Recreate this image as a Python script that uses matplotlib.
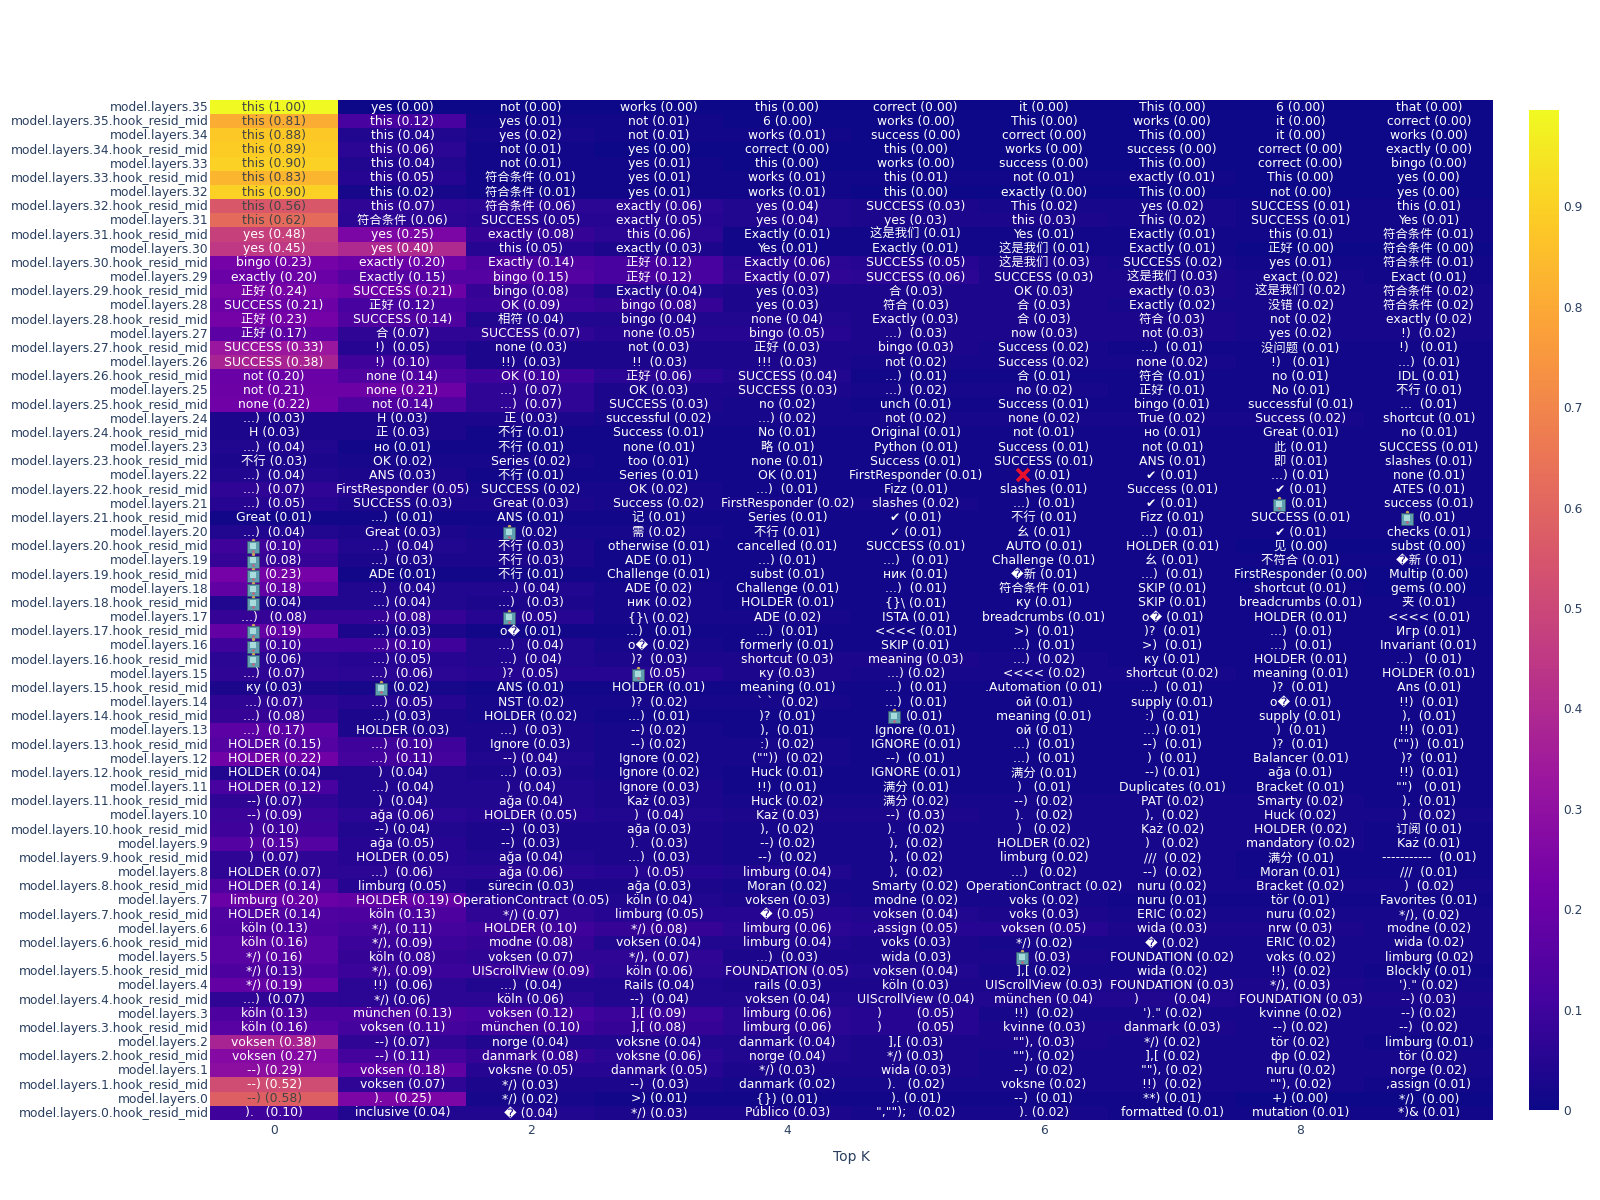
import matplotlib
matplotlib.use('Agg')
import matplotlib.pyplot as plt
from matplotlib.colors import LinearSegmentedColormap
from matplotlib.transforms import ScaledTranslation
import numpy as np

plt.rcParams['font.family'] = ['DejaVu Sans', 'Noto Sans CJK SC']

W, H = 1600, 1200
INK = '#2a3f5f'

plasma_colors = ['#0d0887', '#46039f', '#7201a8', '#9c179e', '#bd3786',
                 '#d8576b', '#ed7953', '#fb9f3a', '#fdca26', '#f0f921']

# rows run from the top of the chart down
layers = []
for n in range(35, -1, -1):
    layers.append('model.layers.%d' % n)
    layers.append('model.layers.%d.hook_resid_mid' % n)

R = '🤖'
X = '❌'

tokens = [
    ['this', 'yes', 'not', 'works', 'this', 'correct', 'it', 'This', '6', 'that'],
    ['this', 'this', 'yes', 'not', '6', 'works', 'This', 'works', 'it', 'correct'],
    ['this', 'this', 'yes', 'not', 'works', 'success', 'correct', 'This', 'it', 'works'],
    ['this', 'this', 'not', 'yes', 'correct', 'this', 'works', 'success', 'correct', 'exactly'],
    ['this', 'this', 'not', 'yes', 'this', 'works', 'success', 'This', 'correct', 'bingo'],
    ['this', 'this', '符合条件', 'yes', 'works', 'this', 'not', 'exactly', 'This', 'yes'],
    ['this', 'this', '符合条件', 'yes', 'works', 'this', 'exactly', 'This', 'not', 'yes'],
    ['this', 'this', '符合条件', 'exactly', 'yes', 'SUCCESS', 'This', 'yes', 'SUCCESS', 'this'],
    ['this', '符合条件', 'SUCCESS', 'exactly', 'yes', 'yes', 'this', 'This', 'SUCCESS', 'Yes'],
    ['yes', 'yes', 'exactly', 'this', 'Exactly', '这是我们', 'Yes', 'Exactly', 'this', '符合条件'],
    ['yes', 'yes', 'this', 'exactly', 'Yes', 'Exactly', '这是我们', 'Exactly', '正好', '符合条件'],
    ['bingo', 'exactly', 'Exactly', '正好', 'Exactly', 'SUCCESS', '这是我们', 'SUCCESS', 'yes', '符合条件'],
    ['exactly', 'Exactly', 'bingo', '正好', 'Exactly', 'SUCCESS', 'SUCCESS', '这是我们', 'exact', 'Exact'],
    ['正好', 'SUCCESS', 'bingo', 'Exactly', 'yes', '合', 'OK', 'exactly', '这是我们', '符合条件'],
    ['SUCCESS', '正好', 'OK', 'bingo', 'yes', '符合', '合', 'Exactly', '没错', '符合条件'],
    ['正好', 'SUCCESS', '相符', 'bingo', 'none', 'Exactly', '合', '符合', 'not', 'exactly'],
    ['正好', '合', 'SUCCESS', 'none', 'bingo', '...) ', 'now', 'not', 'yes', '!) '],
    ['SUCCESS', '!) ', 'none', 'not', '正好', 'bingo', 'Success', '...) ', '没问题', '!)  '],
    ['SUCCESS', '!) ', '!!) ', '!! ', '!!! ', 'not', 'Success', 'none', '!)  ', '...) '],
    ['not', 'none', 'OK', '正好', 'SUCCESS', '...) ', '合', '符合', 'no', 'IDL'],
    ['not', 'none', '...) ', 'OK', 'SUCCESS', '...) ', 'no', '正好', 'No', '不行'],
    ['none', 'not', '...) ', 'SUCCESS', 'no', 'unch', 'Success', 'bingo', 'successful', '... '],
    ['...) ', 'H', '正', 'successful', '...)', 'not', 'none', 'True', 'Success', 'shortcut'],
    ['H', '正', '不行', 'Success', 'No', 'Original', 'not', 'но', 'Great', 'no'],
    ['...) ', 'но', '不行', 'none', '略', 'Python', 'Success', 'not', '此', 'SUCCESS'],
    ['不行', 'OK', 'Series', 'too', 'none', 'Success', 'SUCCESS', 'ANS', '即', 'slashes'],
    ['...) ', 'ANS', '不行', 'Series', 'OK', 'FirstResponder', X, '✔', '...)', 'none'],
    ['...) ', 'FirstResponder', 'SUCCESS', 'OK', '...) ', 'Fizz', 'slashes', 'Success', '✔', 'ATES'],
    ['...) ', 'SUCCESS', 'Great', 'Success', 'FirstResponder', 'slashes', '...) ', '✔', R, 'success'],
    ['Great', '...) ', 'ANS', '记', 'Series', '✔', '不行', 'Fizz', 'SUCCESS', R],
    ['...) ', 'Great', R, '需', '不行', '✓', '幺', '...) ', '✔', 'checks'],
    [R, '...) ', '不行', 'otherwise', 'cancelled', 'SUCCESS', 'AUTO', 'HOLDER', '见', 'subst'],
    [R, '...) ', '不行', 'ADE', '...)', '...)  ', 'Challenge', '幺', '不符合', '�新'],
    [R, 'ADE', '不行', 'Challenge', 'subst', 'ник', '�新', '...) ', 'FirstResponder', 'Multip'],
    [R, '...)  ', '...)', 'ADE', 'Challenge', '...) ', '符合条件', 'SKIP', 'shortcut', 'gems'],
    [R, '...)', '...)  ', 'ник', 'HOLDER', '{}\\', 'ку', 'SKIP', 'breadcrumbs', '夹'],
    ['...)  ', '...)', R, '{}\\', 'ADE', 'ISTA', 'breadcrumbs', 'o�', 'HOLDER', '<<<<'],
    [R, '...)', 'o�', '...)  ', '...) ', '<<<<', '>) ', ')? ', '...) ', 'Игр'],
    [R, '...)', '...)  ', 'o�', 'formerly', 'SKIP', '...) ', '>) ', '...) ', 'Invariant'],
    [R, '...)', '...) ', ')? ', 'shortcut', 'meaning', '...) ', 'ку', 'HOLDER', '...)  '],
    ['...) ', '...) ', ')? ', R, 'ку', '...)', '<<<<', 'shortcut', 'meaning', 'HOLDER'],
    ['ку', R, 'ANS', 'HOLDER', 'meaning', '...) ', '.Automation', '...) ', ')? ', 'Ans'],
    ['...)', '...) ', 'NST', ')? ', '` ` ', '...) ', 'ой', 'supply', 'o�', '!!) '],
    ['...) ', '...)', 'HOLDER', '...) ', ')? ', R, 'meaning', ':) ', 'supply', '), '],
    ['...) ', 'HOLDER', '...) ', '--)', '), ', 'Ignore', 'ой', '...)', ') ', '!!) '],
    ['HOLDER', '...) ', 'Ignore', '--)', ':) ', 'IGNORE', '...) ', '--) ', ')? ', '("")) '],
    ['HOLDER', '...) ', '--)', 'Ignore', '("")) ', '--) ', '...) ', ') ', 'Balancer', ')? '],
    ['HOLDER', ') ', '...) ', 'Ignore', 'Huck', 'IGNORE', '满分', '--)', 'ağa', '!!) '],
    ['HOLDER', '...) ', ') ', 'Ignore', '!!) ', '满分', ')  ', 'Duplicates', 'Bracket', '"")  '],
    ['--)', ') ', 'ağa', 'Każ', 'Huck', '满分', '--) ', 'PAT', 'Smarty', '), '],
    ['--)', 'ağa', 'HOLDER', ') ', 'Każ', '--) ', ').  ', '), ', 'Huck', ')  '],
    [') ', '--)', '--) ', 'ağa', '), ', ').  ', ')  ', 'Każ', 'HOLDER', '订阅'],
    [') ', 'ağa', '--) ', ').  ', '--)', '), ', 'HOLDER', ')  ', 'mandatory', 'Każ'],
    [') ', 'HOLDER', 'ağa', '...) ', '--) ', '), ', 'limburg', '/// ', '满分', '----------- '],
    ['HOLDER', '...) ', 'ağa', ') ', 'limburg', '), ', '...)  ', '--) ', 'Moran', '/// '],
    ['HOLDER', 'limburg', 'sürecin', 'ağa', 'Moran', 'Smarty', 'OperationContract', 'nuru', 'Bracket', ') '],
    ['limburg', 'HOLDER', 'OperationContract', 'köln', 'voksen', 'modne', 'voks', 'nuru', 'tör', 'Favorites'],
    ['HOLDER', 'köln', '*/)', 'limburg', '�', 'voksen', 'voks', 'ERIC', 'nuru', '*/),'],
    ['köln', '*/),', 'HOLDER', '*/)', 'limburg', ',assign', 'voksen', 'wida', 'nrw', 'modne'],
    ['köln', '*/),', 'modne', 'voksen', 'limburg', 'voks', '*/)', '�', 'ERIC', 'wida'],
    ['*/)', 'köln', 'voksen', '*/),', '...) ', 'wida', R, 'FOUNDATION', 'voks', 'limburg'],
    ['*/)', '*/),', 'UIScrollView', 'köln', 'FOUNDATION', 'voksen', '],[', 'wida', '!!) ', 'Blockly'],
    ['*/)', '!!) ', '...) ', 'Rails', 'rails', 'köln', 'UIScrollView', 'FOUNDATION', '*/),', '\').\"'],
    ['...) ', '*/)', 'köln', '--) ', 'voksen', 'UIScrollView', 'münchen', ')        ', 'FOUNDATION', '--)'],
    ['köln', 'münchen', 'voksen', '],[', 'limburg', ')        ', '!!) ', '\').\"', 'kvinne', '--)'],
    ['köln', 'voksen', 'münchen', '],[', 'limburg', ')        ', 'kvinne', 'danmark', '--)', '--) '],
    ['voksen', '--)', 'norge', 'voksne', 'danmark', '],[', '""),', '*/)', 'tör', 'limburg'],
    ['voksen', '--)', 'danmark', 'voksne', 'norge', '*/)', '""),', '],[', 'фр', 'tör'],
    ['--)', 'voksen', 'voksne', 'danmark', '*/)', 'wida', '--) ', '""),', 'nuru', 'norge'],
    ['--)', 'voksen', '*/)', '--) ', 'danmark', ').  ', 'voksne', '!!) ', '""),', ',assign'],
    ['--)', ').  ', '*/)', '>)', '{})', ').', '--) ', '**)', '+)', '*/) '],
    [').  ', 'inclusive', '�', '*/)', 'Público', '","");  ', ').', 'formatted', 'mutation', '*)&'],
]

probs = [
    [.996, .00, .00, .00, .00, .00, .00, .00, .00, .00],
    [.81, .12, .01, .01, .00, .00, .00, .00, .00, .00],
    [.88, .04, .02, .01, .01, .00, .00, .00, .00, .00],
    [.89, .06, .01, .00, .00, .00, .00, .00, .00, .00],
    [.90, .04, .01, .01, .00, .00, .00, .00, .00, .00],
    [.83, .05, .01, .01, .01, .01, .01, .01, .00, .00],
    [.90, .02, .01, .01, .01, .00, .00, .00, .00, .00],
    [.56, .07, .06, .06, .04, .03, .02, .02, .01, .01],
    [.62, .06, .05, .05, .04, .03, .03, .02, .01, .01],
    [.48, .25, .08, .06, .01, .01, .01, .01, .01, .01],
    [.45, .40, .05, .03, .01, .01, .01, .01, .00, .00],
    [.23, .20, .14, .12, .06, .05, .03, .02, .01, .01],
    [.20, .15, .15, .12, .07, .06, .03, .03, .02, .01],
    [.24, .21, .08, .04, .03, .03, .03, .03, .02, .02],
    [.21, .12, .09, .08, .03, .03, .03, .02, .02, .02],
    [.23, .14, .04, .04, .04, .03, .03, .03, .02, .02],
    [.17, .07, .07, .05, .05, .03, .03, .03, .02, .02],
    [.33, .05, .03, .03, .03, .03, .02, .01, .01, .01],
    [.38, .10, .03, .03, .03, .02, .02, .02, .01, .01],
    [.20, .14, .10, .06, .04, .01, .01, .01, .01, .01],
    [.21, .21, .07, .03, .03, .02, .02, .01, .01, .01],
    [.22, .14, .07, .03, .02, .01, .01, .01, .01, .01],
    [.03, .03, .03, .02, .02, .02, .02, .02, .02, .01],
    [.03, .03, .01, .01, .01, .01, .01, .01, .01, .01],
    [.04, .01, .01, .01, .01, .01, .01, .01, .01, .01],
    [.03, .02, .02, .01, .01, .01, .01, .01, .01, .01],
    [.04, .03, .01, .01, .01, .01, .01, .01, .01, .01],
    [.07, .05, .02, .02, .01, .01, .01, .01, .01, .01],
    [.05, .03, .03, .02, .02, .02, .01, .01, .01, .01],
    [.01, .01, .01, .01, .01, .01, .01, .01, .01, .01],
    [.04, .03, .02, .02, .01, .01, .01, .01, .01, .01],
    [.10, .04, .03, .01, .01, .01, .01, .01, .00, .00],
    [.08, .03, .03, .01, .01, .01, .01, .01, .01, .01],
    [.23, .01, .01, .01, .01, .01, .01, .01, .00, .00],
    [.18, .04, .04, .02, .01, .01, .01, .01, .01, .00],
    [.04, .04, .03, .02, .01, .01, .01, .01, .01, .01],
    [.08, .08, .05, .02, .02, .01, .01, .01, .01, .01],
    [.19, .03, .01, .01, .01, .01, .01, .01, .01, .01],
    [.10, .10, .04, .02, .01, .01, .01, .01, .01, .01],
    [.06, .05, .04, .03, .03, .03, .02, .01, .01, .01],
    [.07, .06, .05, .05, .03, .02, .02, .02, .01, .01],
    [.03, .02, .01, .01, .01, .01, .01, .01, .01, .01],
    [.07, .05, .02, .02, .02, .01, .01, .01, .01, .01],
    [.08, .03, .02, .01, .01, .01, .01, .01, .01, .01],
    [.17, .03, .03, .02, .01, .01, .01, .01, .01, .01],
    [.15, .10, .03, .02, .02, .01, .01, .01, .01, .01],
    [.22, .11, .04, .02, .02, .01, .01, .01, .01, .01],
    [.04, .04, .03, .02, .01, .01, .01, .01, .01, .01],
    [.12, .04, .04, .03, .01, .01, .01, .01, .01, .01],
    [.07, .04, .04, .03, .02, .02, .02, .02, .02, .01],
    [.09, .06, .05, .04, .03, .03, .02, .02, .02, .02],
    [.10, .04, .03, .03, .02, .02, .02, .02, .02, .01],
    [.15, .05, .03, .03, .02, .02, .02, .02, .02, .01],
    [.07, .05, .04, .03, .02, .02, .02, .02, .01, .01],
    [.07, .06, .06, .05, .04, .02, .02, .02, .01, .01],
    [.14, .05, .03, .03, .02, .02, .02, .02, .02, .02],
    [.20, .19, .05, .04, .03, .02, .02, .01, .01, .01],
    [.14, .13, .07, .05, .05, .04, .03, .02, .02, .02],
    [.13, .11, .10, .08, .06, .05, .05, .03, .03, .02],
    [.16, .09, .08, .04, .04, .03, .02, .02, .02, .02],
    [.16, .08, .07, .07, .03, .03, .03, .02, .02, .02],
    [.13, .09, .09, .06, .05, .04, .02, .02, .02, .01],
    [.19, .06, .04, .04, .03, .03, .03, .03, .03, .02],
    [.07, .06, .06, .04, .04, .04, .04, .04, .03, .03],
    [.13, .13, .12, .09, .06, .05, .02, .02, .02, .02],
    [.16, .11, .10, .08, .06, .05, .03, .03, .02, .02],
    [.38, .07, .04, .04, .04, .03, .03, .02, .02, .01],
    [.27, .11, .08, .06, .04, .03, .02, .02, .02, .02],
    [.29, .18, .05, .05, .03, .03, .02, .02, .02, .02],
    [.52, .07, .03, .03, .02, .02, .02, .02, .02, .01],
    [.58, .25, .02, .01, .01, .01, .01, .01, .00, .00],
    [.10, .04, .04, .03, .03, .02, .02, .01, .01, .01],
]

top_k = list(range(10))
x_ticks = [0, 2, 4, 6, 8]
cbar_ticks = [0, .1, .2, .3, .4, .5, .6, .7, .8, .9]
cbar_labels = ['0', '0.1', '0.2', '0.3', '0.4', '0.5', '0.6', '0.7', '0.8', '0.9']

z = np.array(probs)
cmap = LinearSegmentedColormap.from_list('plotly_plasma', plasma_colors)

fig = plt.figure(figsize=(16, 12), dpi=100)
ax = fig.add_axes([210 / W, 1 - 1120 / H, (1493 - 210) / W, 1020 / H])
im = ax.imshow(z, cmap=cmap, vmin=0, vmax=z.max(), aspect='auto', interpolation='nearest')

ax.set_yticks(range(len(layers)))
ax.set_yticklabels(layers, fontsize=8.8, color=INK)
ax.set_xticks(x_ticks)
ax.set_xticklabels(x_ticks, fontsize=8.8, color=INK)
ax.tick_params(length=0)
ax.tick_params(axis='y', pad=0.8)
ax.tick_params(axis='x', pad=3)
for s in ax.spines.values():
    s.set_visible(False)
ax.set_xlabel('Top K', fontsize=10, color=INK, labelpad=9)
# row names sit a pixel higher than the default centring
for lab in ax.get_yticklabels():
    lab.set_transform(lab.get_transform() + ScaledTranslation(0, 1 / 100, fig.dpi_scale_trans))


def shifted(px):
    return ax.transData + ScaledTranslation(px / 100, 0, fig.dpi_scale_trans)


# the emoji have no glyph in the installed fonts, so those two get small markers
def draw_robot(col, row):
    t = shifted(-21.5)
    ax.plot(col, row - .42, marker='o', ms=2.4, color='#c9a45c', transform=t, mew=0)
    ax.plot(col, row + .08, marker='s', ms=8.5, color='#5f9fae', transform=t, mec='#38586e', mew=.5)
    ax.plot(col, row, marker='s', ms=5, color='#a8dcdc', transform=t, mew=0)
    ax.plot(col, row + .32, marker='o', ms=1.8, color='#d05a78', transform=t, mew=0)


def draw_cross(col, row):
    ax.plot(col, row, marker='x', ms=9, mew=2.6, color='#e8112d', transform=shifted(-21))


for r, row in enumerate(tokens):
    for c, tok in enumerate(row):
        val = '(%.2f)' % probs[r][c]
        color = '#444444' if probs[r][c] > 0.54 else 'white'
        if tok == R or tok == X:
            if tok == R:
                draw_robot(top_k[c], r)
            else:
                draw_cross(top_k[c], r)
            ax.text(c, r, val, ha='center', va='center', fontsize=8.9, color=color,
                    transform=shifted(9))
        else:
            ax.text(c, r, tok + ' ' + val, ha='center', va='center', fontsize=8.9, color=color)
ax.set_xlim(-.5, 9.5)
ax.set_ylim(len(layers) - .5, -.5)

cax = fig.add_axes([1529 / W, 1 - 1110 / H, 30 / W, 1000 / H])
cb = fig.colorbar(im, cax=cax)
cb.set_ticks(cbar_ticks)
cb.set_ticklabels(cbar_labels)
cb.ax.tick_params(length=0, labelsize=8.8, labelcolor=INK, pad=3)
cb.outline.set_visible(False)

fig.savefig('out.png', dpi=100)
